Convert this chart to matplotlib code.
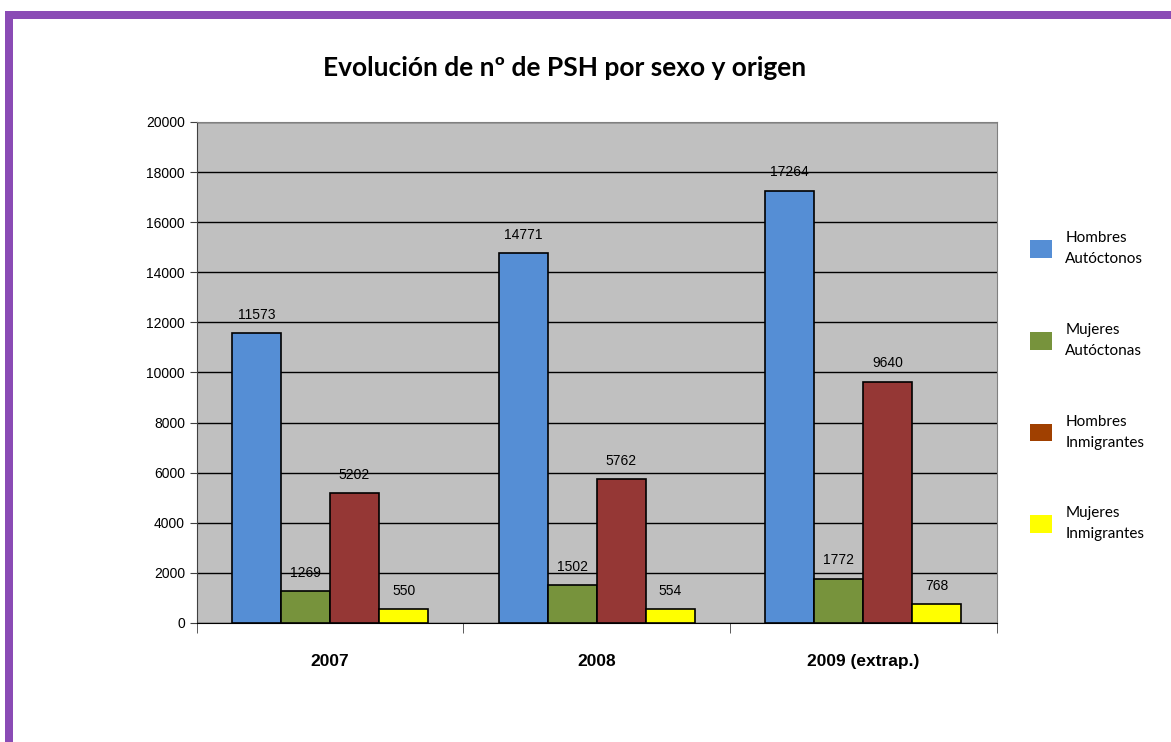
import numpy as np
import matplotlib.pyplot as plt
from matplotlib.patches import Rectangle, Patch

# Datos del gráfico
categorias = ["2007", "2008", "2009 (extrap.)"]
series = ["Hombres\nAutóctonos", "Mujeres\nAutóctonas", "Hombres\nInmigrantes", "Mujeres\nInmigrantes"]
hombres_aut = [11573, 14771, 17264]
mujeres_aut = [1269, 1502, 1772]
hombres_inm = [5202, 5762, 9640]
mujeres_inm = [550, 554, 768]

colores = ["#558ED5", "#77933C", "#953735", "#FFFF00"]
colores_leyenda = ["#558ED5", "#77933C", "#A04000", "#FFFF00"]

fig = plt.figure(figsize=(11.71, 7.42), dpi=100)
ax = fig.add_axes([0.168, 0.1604, 0.683, 0.6752])

x = np.arange(len(categorias))
ancho = 0.184
valores = [hombres_aut, mujeres_aut, hombres_inm, mujeres_inm]
for i, (vals, c) in enumerate(zip(valores, colores)):
    pos = x + (i - 1.5) * ancho
    barras = ax.bar(pos, vals, ancho, color=c, edgecolor="black", linewidth=1.2, zorder=3)
    for b, v in zip(barras, vals):
        ax.annotate(str(v), (b.get_x() + b.get_width() / 2, v), xytext=(0, 8),
                    textcoords="offset points", ha="center", va="bottom",
                    fontsize=10, family="Liberation Sans")

ax.set_facecolor("#C0C0C0")
ax.set_xlim(-0.5, 2.5)
ax.set_ylim(0, 20000)
ax.set_yticks(np.arange(0, 20001, 2000))
ax.yaxis.grid(True, color="black", linewidth=1, zorder=1)
ax.set_axisbelow(True)

ax.set_xticks(x)
ax.set_xticklabels(categorias, fontsize=12.5, fontweight="bold", family="Liberation Sans")
ax.tick_params(axis="x", length=0, pad=22)
ax.set_xticks([-0.5, 0.5, 1.5, 2.5], minor=True)
ax.tick_params(axis="x", which="minor", length=7, direction="out", color="#404040")
ax.tick_params(axis="y", length=5, direction="out", color="#404040", labelsize=10)
for lab in ax.get_yticklabels():
    lab.set_family("Liberation Sans")

ax.spines["left"].set_color("#404040")
ax.spines["bottom"].set_color("black")
ax.spines["top"].set_color("#808080")
ax.spines["right"].set_color("#808080")

fig.text(0.482, 0.908, "Evolución de nº de PSH por sexo y origen", ha="center", va="center",
         fontsize=19, family="Lato", fontweight="bold")

# Leyenda
handles = [Patch(facecolor=c, edgecolor="none") for c in colores_leyenda]
leg = fig.legend(handles, series, loc="upper left", bbox_to_anchor=(0.868, 0.707),
                 frameon=False, labelspacing=3.7, handlelength=1.4,
                 handleheight=1.4, handletextpad=0.9, prop={"family": "Lato", "size": 11})
for t in leg.get_texts():
    t.set_linespacing(1.65)

# Borde morado
fig.patches.append(Rectangle((5 / 1171, 1 - 19 / 742), 1, 8 / 742, transform=fig.transFigure,
                             facecolor="#8A4BB5", edgecolor="none"))
fig.patches.append(Rectangle((5 / 1171, 0), 8 / 1171, 1 - 11 / 742, transform=fig.transFigure,
                             facecolor="#8A4BB5", edgecolor="none"))

fig.savefig("out.png", dpi=100)
